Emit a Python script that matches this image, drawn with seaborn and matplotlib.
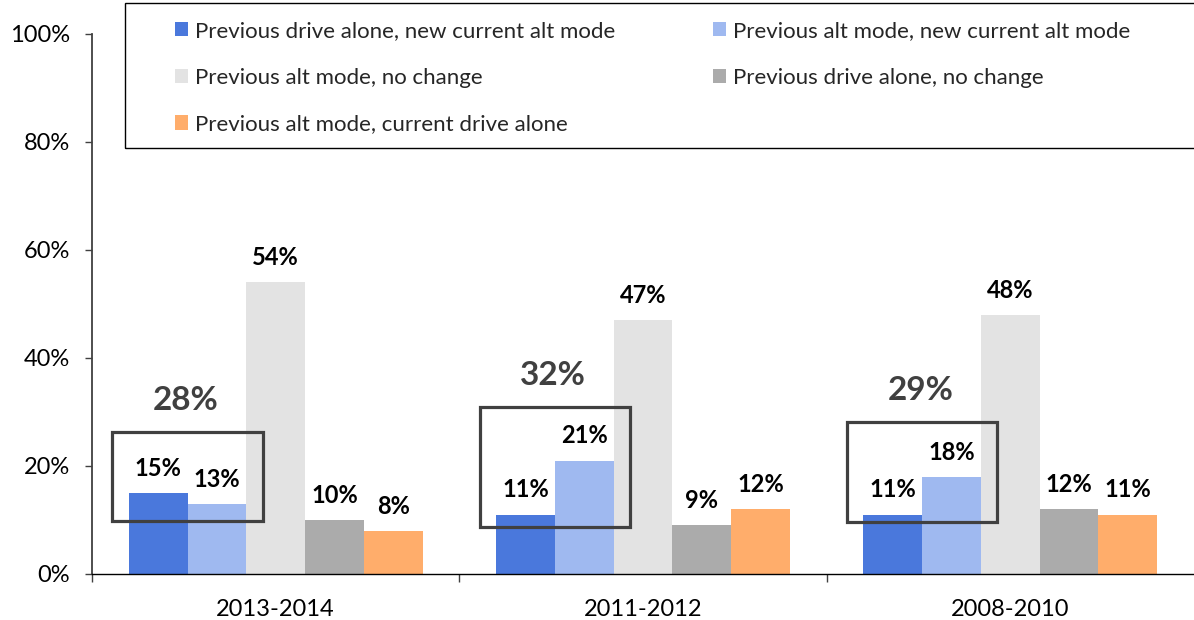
import matplotlib
matplotlib.use("Agg")
import matplotlib.pyplot as plt
from matplotlib.patches import Rectangle
from matplotlib.ticker import FuncFormatter, FixedLocator
import seaborn as sns
import pandas as pd

# ---- data ----
periods = ["2013-2014", "2011-2012", "2008-2010"]
series = [
    "Previous drive alone, new current alt mode",
    "Previous alt mode, new current alt mode",
    "Previous alt mode, no change",
    "Previous drive alone, no change",
    "Previous alt mode, current drive alone",
]
drive_to_alt = [15, 11, 11]
alt_to_alt = [13, 21, 18]
alt_no_change = [54, 47, 48]
drive_no_change = [10, 9, 12]
alt_to_drive = [8, 12, 11]
colors = ["#4a78dc", "#9fb9f0", "#e3e3e3", "#ababab", "#ffad6b"]

# highlight boxes (layout, percent units)
box_bottom = [9.8, 8.7, 9.6]
box_top = [26.3, 30.9, 28.1]

values = [drive_to_alt, alt_to_alt, alt_no_change, drive_no_change, alt_to_drive]
rows = []
for s, vals in zip(series, values):
    for p, v in zip(periods, vals):
        rows.append({"period": p, "series": s, "value": v})
df = pd.DataFrame(rows)

sns.set_theme(style="white")
plt.rcParams["font.family"] = ["Lato", "DejaVu Sans"]

fig = plt.figure(figsize=(11.94, 6.2), dpi=100)
W, H = 1194, 620
ax = fig.add_axes([92 / W, 1 - 574 / H, 1 - 92 / W, (574 - 34) / H])

sns.barplot(data=df, x="period", y="value", hue="series", order=periods,
            hue_order=series, palette=colors, width=0.8, saturation=1,
            ax=ax, legend=True, edgecolor="none")

for cont in ax.containers:
    ax.bar_label(cont, labels=[f"{v:.0f}%" for v in cont.datavalues],
                 padding=9.5, fontsize=17, fontweight="bold", color="black")

for i in range(len(periods)):
    b, t = box_bottom[i], box_top[i]
    ax.add_patch(Rectangle((i - 0.445, b), 0.41, t - b, fill=False,
                           edgecolor="#404040", linewidth=2.3, zorder=5))
    total = drive_to_alt[i] + alt_to_alt[i]
    ax.text(i - 0.245, t + 5.8, f"{total}%", ha="center", va="center",
            fontsize=24, fontweight="bold", color="#404040")

ax.set_ylim(0, 100)
ax.set_xlim(-0.5, 2.5)
ax.yaxis.set_major_locator(FixedLocator([0, 20, 40, 60, 80, 100]))
ax.yaxis.set_major_formatter(FuncFormatter(lambda x, _: f"{x:.0f}%"))
ax.xaxis.set_minor_locator(FixedLocator([-0.5, 0.5, 1.5]))
ax.tick_params(axis="y", which="major", left=True, length=5, width=1,
               color="#404040", labelsize=17, labelcolor="black", pad=11)
ax.tick_params(axis="x", which="major", bottom=False, labelsize=17,
               labelcolor="black", pad=12)
ax.tick_params(axis="x", which="minor", bottom=True, length=6, width=1,
               color="#404040")
ax.set_xlabel("")
ax.set_ylabel("")
for side in ["top", "right"]:
    ax.spines[side].set_visible(False)
ax.spines["left"].set_color("#404040")
ax.spines["left"].set_linewidth(1.3)
ax.spines["bottom"].set_color("black")
ax.spines["bottom"].set_linewidth(1.0)

# legend (row-major order as in the reference)
handles, labels = ax.get_legend_handles_labels()
ax.get_legend().remove()
order = [0, 2, 4, 1, 3]
leg = fig.legend([handles[k] for k in order], [labels[k] for k in order],
                 ncol=2, frameon=False, loc="upper left",
                 bbox_to_anchor=(175 / W, 1 - 21 / H), fontsize=16,
                 handlelength=0.6, handleheight=0.6, handletextpad=0.3,
                 labelspacing=1.2, columnspacing=4.4, borderpad=0,
                 borderaxespad=0)
fig.add_artist(Rectangle((125 / W, 1 - 148 / H), (1210 - 125) / W, 145 / H,
                         transform=fig.transFigure, fill=False,
                         edgecolor="black", linewidth=1.0))

fig.savefig("out.png", dpi=100)
